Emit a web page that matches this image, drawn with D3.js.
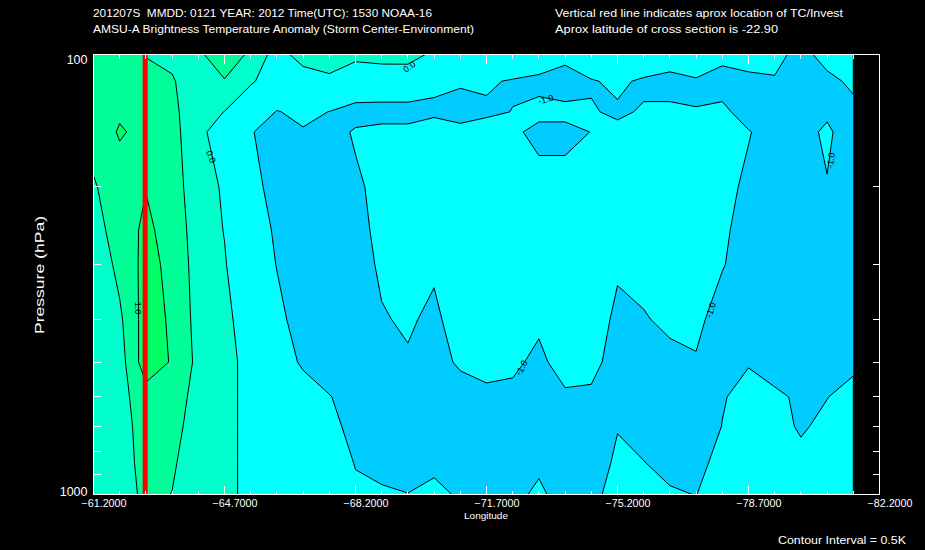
<!DOCTYPE html>
<html><head><meta charset="utf-8">
<script src="https://cdn.jsdelivr.net/npm/d3@7"></script>
<style>
html,body{margin:0;padding:0;background:#000;}
svg{display:block;}
text{font-family:"Liberation Sans","DejaVu Sans",sans-serif;fill:#fff;white-space:pre;}
</style></head><body>
<svg id="c" width="925" height="550"></svg>
<script>
// ---------------- data ----------------
const longitudes = [-61.2,-61.9,-62.6,-63.3,-64.0,-64.7,-65.4,-66.1,-66.8,-67.5,-68.2,-68.9,-69.6,-70.3,-71.0,
                    -71.7,-72.4,-73.1,-73.8,-74.5,-75.2,-75.9,-76.6,-77.3,-78.0,-78.7,-79.4,-80.1,-80.8,-81.5];
const levels = [100,115,135,150,200,250,300,400,500,600,700,850,1000];
// temperature anomaly (K), one row per pressure level, one value per longitude
const t100  = [0.8,0.62,0.48,0.42,0.44,0.7,0.44,-0.24,0.25,0.3,0.15,0.2,0.2,-0.1,-0.3,-0.28,-0.4,-0.55,-0.8,-0.4,-0.2,-0.38,-0.63,-0.3,-0.78,-0.63,-0.75,-1.27,-0.69,-0.3];
const t115  = [0.8,0.75,0.65,0.53,0.3,0.48,0.08,-0.36,-0.31,-0.12,-0.41,-0.36,-0.35,-0.92,-0.94,-0.93,-1.05,-1.15,-1.3,-1.05,-0.88,-1.1,-1.2,-1.1,-1.3,-1.2,-1.07,-1.3,-1.2,-0.85];
const t135  = [0.8,0.93,0.8,0.6,0.23,-0.01,-0.54,-1.03,-0.85,-1.01,-1.25,-1.3,-1.3,-1.07,-1.2,-1.08,-0.99,-0.85,-0.85,-0.96,-1.08,-0.95,-0.9,-0.98,-0.85,-1.29,-1.3,-1.35,-1.1,-1.2];
const t150  = [0.68,1.05,0.86,0.6,0.29,-0.59,-0.97,-1.2,-1.05,-1.25,-0.93,-0.8,-0.8,-0.82,-0.85,-0.8,-0.9,-1.15,-1.15,-0.99,-0.88,-0.95,-0.88,-0.88,-0.85,-0.96,-1.3,-1.2,-0.9,-1.34];
const t200  = [0.455,0.75,0.98,0.72,0.22,-0.06,-0.73,-1.3,-1.4,-1.35,-1.1,-0.82,-0.75,-0.75,-0.7,-0.7,-0.72,-0.8,-0.8,-0.8,-0.75,-0.8,-0.75,-0.75,-0.8,-1.13,-1.35,-1.3,-1.03,-1.3];
const t250  = [0.338,0.69,1.12,0.756,0.295,-0.02,-0.576,-1.115,-1.35,-1.4,-1.2,-0.834,-0.72,-0.75,-0.68,-0.65,-0.68,-0.72,-0.7,-0.7,-0.75,-0.72,-0.7,-0.72,-0.85,-1.34,-1.4,-1.35,-1.25,-1.3];
const t300  = [0.1,0.65,1.15,0.88,0.277,0.04,-0.49,-1.024,-1.3,-1.4,-1.35,-0.875,-0.75,-0.88,-0.72,-0.7,-0.72,-0.78,-0.75,-0.78,-0.95,-0.78,-0.72,-0.75,-0.96,-1.3,-1.4,-1.4,-1.3,-1.25];
const t400  = [0.2,0.41,1.23,0.925,0.324,0.159,-0.33,-0.82,-1.3,-1.45,-1.4,-1.06,-0.9,-1.163,-0.62,-0.65,-0.7,-0.9,-0.72,-0.8,-1.08,-1.05,-0.865,-0.85,-1.28,-1.35,-1.4,-1.4,-1.35,-1.3];
const t500  = [0.2,0.28,1.28,0.957,0.371,0.217,-0.217,-0.655,-1.093,-1.35,-1.45,-1.4,-1.08,-1.3,-0.882,-0.88,-0.9,-1.12,-0.775,-0.859,-1.2,-1.3,-1.17,-1.05,-1.3,-1.03,-1.2,-1.3,-1.35,-1.1];
const t600  = [0.15,0.32,0.8,0.8,0.283,0.14,-0.14,-0.41,-0.7,-0.97,-1.28,-1.35,-1.4,-1.4,-1.35,-1.08,-1.12,-1.3,-1.08,-1.08,-1.3,-1.35,-1.35,-1.3,-1.034,-0.85,-0.92,-1.07,-1.01,-0.85];
const t700  = [0.12,0.289,0.72,0.7,0.224,0.125,-0.125,-0.377,-0.63,-0.88,-1.133,-1.3,-1.35,-1.4,-1.4,-1.4,-1.4,-1.4,-1.4,-1.35,-1.03,-1.2,-1.3,-1.3,-0.99,-0.8,-0.85,-1.05,-0.9,-0.8];
const t850  = [0.1,0.265,0.68,0.57,0.18,0.112,-0.112,-0.338,-0.564,-0.79,-1.015,-1.1,-1.2,-1.15,-1.3,-1.4,-1.4,-1.1,-1.35,-1.34,-0.88,-0.982,-1.15,-1.2,-0.771,-0.7,-0.72,-0.88,-0.78,-0.7];
const t1000 = [0.1,0.245,0.62,0.49,0.25,0.1,-0.1,-0.33,-0.55,-0.75,-0.94,-0.953,-0.99,-0.824,-1.083,-1.2,-1.15,-0.894,-1.236,-1.176,-0.75,-0.8,-0.94,-1.01,-0.72,-0.6,-0.62,-0.65,-0.62,-0.6];
const anomalyRows = [t100,t115,t135,t150,t200,t250,t300,t400,t500,t600,t700,t850,t1000];

const contourLevels = [-1.0, 0.0, 0.5, 1.0];
const bandColors = ["#00ccff","#00ffff","#00ffcc","#00ff99","#00ff66"];
const stormLon = -62.58;
const majorLonTicks = [-61.2,-64.7,-68.2,-71.7,-75.2,-78.7,-82.2];
const pressureTicks = [200,300,400,500,600,700,800,900];
const pressureLabels = [100,1000];
const contourLabels = [
  {text:"0.0",  lon:-69.65, p:107, angle:-36},
  {text:"0.0",  lon:-64.32, p:171, angle:69},
  {text:"1.0",  lon:-62.37, p:377, angle:90},
  {text:"-1.0", lon:-73.29, p:127, angle:-15},
  {text:"-1.0", lon:-72.65, p:516, angle:-62},
  {text:"-1.0", lon:-77.71, p:381, angle:-72},
  {text:"-1.0", lon:-80.92, p:174, angle:-83}
];

// ---------------- drawing ----------------
const svg = d3.select("#c");
svg.append("rect").attr("width",925).attr("height",550).attr("fill","#000");

const x = d3.scaleLinear().domain([-61.2,-82.2]).range([93.5,879.5]);
const y = d3.scaleLog().domain([100,1000]).range([54.5,494.5]);

const nx = longitudes.length, ny = levels.length;
const values = anomalyRows.flat();
const colX = longitudes.map(l => x(l));
const rowY = levels.map(p => y(p));
function interp(arr, c){
  let s = Math.max(0, Math.min(arr.length-1, c-0.5));
  const i = Math.min(Math.floor(s), arr.length-2);
  const f = s - i;
  return arr[i] + f*(arr[i+1]-arr[i]);
}
const proj = d3.geoTransform({point(px,py){ this.stream.point(interp(colX,px), interp(rowY,py)); }});
const path = d3.geoPath(proj);

const plot = svg.append("g");
plot.append("rect")
  .attr("x", colX[0]).attr("y", rowY[0])
  .attr("width", colX[nx-1]-colX[0]).attr("height", rowY[ny-1]-rowY[0])
  .attr("fill", bandColors[0]);

const contours = d3.contours().size([nx,ny]).thresholds(contourLevels)(values);
plot.selectAll("path.band").data(contours).join("path")
  .attr("class","band")
  .attr("d", path)
  .attr("fill", (d,i)=>bandColors[i+1])
  .attr("stroke","#000").attr("stroke-width",1).attr("stroke-linejoin","round");

// contour labels
plot.selectAll("text.cl").data(contourLabels).join("text")
  .attr("class","cl")
  .attr("transform", d=>`translate(${x(d.lon)},${y(d.p)}) rotate(${d.angle})`)
  .attr("text-anchor","middle").attr("dominant-baseline","middle")
  .style("fill","#000").style("font-size","9px")
  .text(d=>d.text);

// storm location line
svg.append("rect")
  .attr("x", x(stormLon)-2.5).attr("y", y(100))
  .attr("width",5).attr("height", y(1000)-y(100))
  .attr("fill","#ff0000");

// frame
svg.append("rect").attr("x",93.5).attr("y",54.5).attr("width",786).attr("height",440)
  .attr("fill","none").attr("stroke","#fff").attr("stroke-width",1);

// axes
const minorLon = d3.range(31).map(i => +(-61.2 - 0.7*i).toFixed(1));
function styleAxis(g){ g.select(".domain").remove(); g.selectAll("line").attr("stroke","#fff").attr("shape-rendering","crispEdges"); g.selectAll("text").style("fill","#fff"); }
svg.append("g").attr("transform",`translate(0,${y(1000)})`)
  .call(d3.axisBottom(x).tickValues(minorLon).tickSize(-4).tickFormat("").offset(0)).call(styleAxis);
const bx = svg.append("g").attr("transform",`translate(0,${y(1000)})`)
  .call(d3.axisBottom(x).tickValues(majorLonTicks).tickSize(-9).tickPadding(5).tickFormat(d3.format(".4f")).offset(0)).call(styleAxis);
bx.selectAll("text").attr("dx",10.5).style("font-size","10px").attr("textLength",45).attr("lengthAdjust","spacingAndGlyphs");
svg.append("g").attr("transform",`translate(0,${y(100)})`)
  .call(d3.axisTop(x).tickValues(minorLon).tickSize(-4).tickFormat("").offset(0)).call(styleAxis);
svg.append("g").attr("transform",`translate(0,${y(100)})`)
  .call(d3.axisTop(x).tickValues(majorLonTicks).tickSize(-9).tickFormat("").offset(0)).call(styleAxis);
svg.append("g").attr("transform",`translate(93.5,0)`)
  .call(d3.axisLeft(y).tickValues(pressureTicks).tickSize(-7).tickFormat("").offset(0)).call(styleAxis);
svg.append("g").attr("transform",`translate(879.5,0)`)
  .call(d3.axisRight(y).tickValues(pressureTicks).tickSize(-7).tickFormat("").offset(0)).call(styleAxis);
const ly = svg.append("g").attr("transform",`translate(93.5,0)`)
  .call(d3.axisLeft(y).tickValues(pressureLabels).tickSize(0).tickPadding(6).tickFormat(d3.format("d")).offset(0)).call(styleAxis);
ly.selectAll("text").style("font-size","12.5px").attr("dy",(d)=> d===100 ? "0.75em" : "0.1em");

// texts
function txt(s, xx, yy, size, len, anchor){
  const t = svg.append("text").attr("x",xx).attr("y",yy).style("font-size",size+"px").text(s);
  if (anchor) t.attr("text-anchor",anchor);
  if (len) t.attr("textLength",len).attr("lengthAdjust","spacingAndGlyphs");
  return t;
}
txt("201207S  MMDD: 0121 YEAR: 2012 Time(UTC): 1530 NOAA-16", 93, 16.5, 11, 339);
txt("AMSU-A Brightness Temperature Anomaly (Storm Center-Environment)", 93, 33, 11, 381);
txt("Vertical red line indicates aprox location of TC/Invest", 555, 16.5, 11, 288);
txt("Aprox latitude of cross section is -22.90", 555, 33, 11, 223);
txt("Longitude", 486, 519, 9.5, 44, "middle");
txt("Contour Interval = 0.5K", 778, 544, 11, 128);
svg.append("text").attr("transform","translate(44,275) rotate(-90)")
  .attr("text-anchor","middle").style("font-size","12.5px")
  .attr("textLength",118).attr("lengthAdjust","spacingAndGlyphs")
  .text("Pressure (hPa)");
</script>
</body></html>
